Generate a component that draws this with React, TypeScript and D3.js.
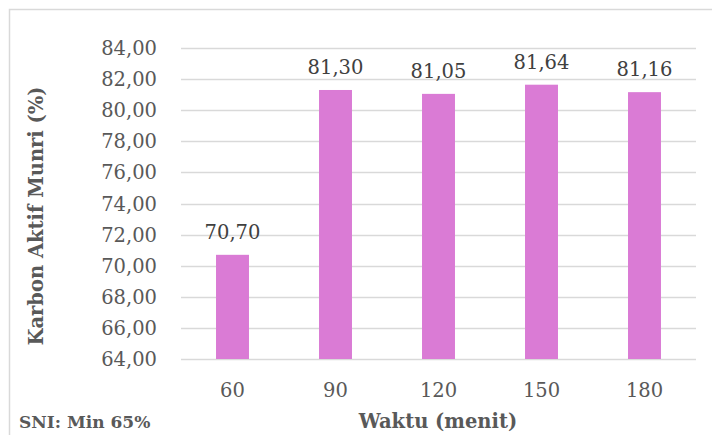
import React from "react";
import * as d3 from "d3";

// Reaction time (minutes) and resulting pure activated carbon (%)
const categories: string[] = ["60", "90", "120", "150", "180"];
const values: number[] = [70.7, 81.3, 81.05, 81.64, 81.16];
const yTicks: number[] = [64, 66, 68, 70, 72, 74, 76, 78, 80, 82, 84];

const W = 712;
const H = 435;
const margin = { left: 181, right: 16, top: 48, bottom: 76 };

const FONT = "'DejaVu Serif', 'Liberation Serif', serif";
const TEXT = "#595959";
const GRID = "#D9D9D9";
const BAR = "#DA7BD5";

const fmt = (v: number) => v.toFixed(2).replace(".", ",");

export default function App() {
  const x = d3
    .scaleBand<string>()
    .domain(categories)
    .range([margin.left, W - margin.right])
    .paddingInner(0.68)
    .paddingOuter(0.34);
  const y = d3
    .scaleLinear()
    .domain([64, 84])
    .range([H - margin.bottom, margin.top]);

  return (
    <svg
      width={W}
      height={H}
      style={{ position: "absolute", left: 0, top: 0, background: "#fff" }}
      fontFamily={FONT}
    >
      <rect x={9.5} y={9.5} width={W + 20} height={H + 20} fill="#fff" stroke={GRID} strokeWidth={1.5} />

      {yTicks.map((t) => (
        <g key={t}>
          <line
            x1={margin.left}
            x2={W - margin.right}
            y1={Math.round(y(t)) + 0.5}
            y2={Math.round(y(t)) + 0.5}
            stroke={GRID}
            strokeWidth={1.3}
          />
          <text x={157} y={y(t) + 7} textAnchor="end" fontSize={19.5} fill={TEXT}>
            {fmt(t)}
          </text>
        </g>
      ))}

      {categories.map((c, i) => (
        <g key={c}>
          <rect
            x={x(c)!}
            y={y(values[i])}
            width={x.bandwidth()}
            height={y(64) - y(values[i])}
            fill={BAR}
          />
          <text
            x={x(c)! + x.bandwidth() / 2}
            y={y(values[i]) - 16}
            textAnchor="middle"
            fontSize={19.5}
            fill="#404040"
          >
            {fmt(values[i])}
          </text>
          <text
            x={x(c)! + x.bandwidth() / 2}
            y={397}
            textAnchor="middle"
            fontSize={19.5}
            fill={TEXT}
          >
            {c}
          </text>
        </g>
      ))}

      <text
        x={438}
        y={428}
        textAnchor="middle"
        fontSize={19.5}
        fontWeight="bold"
        fill={TEXT}
      >
        Waktu (menit)
      </text>

      <text
        transform={`translate(43, 216) rotate(-90)`}
        textAnchor="middle"
        fontSize={19.5}
        fontWeight="bold"
        fill={TEXT}
      >
        Karbon Aktif Munri (%)
      </text>

      <text x={19} y={428} fontSize={17} fontWeight="bold" fill={TEXT}>
        SNI: Min 65%
      </text>
    </svg>
  );
}
